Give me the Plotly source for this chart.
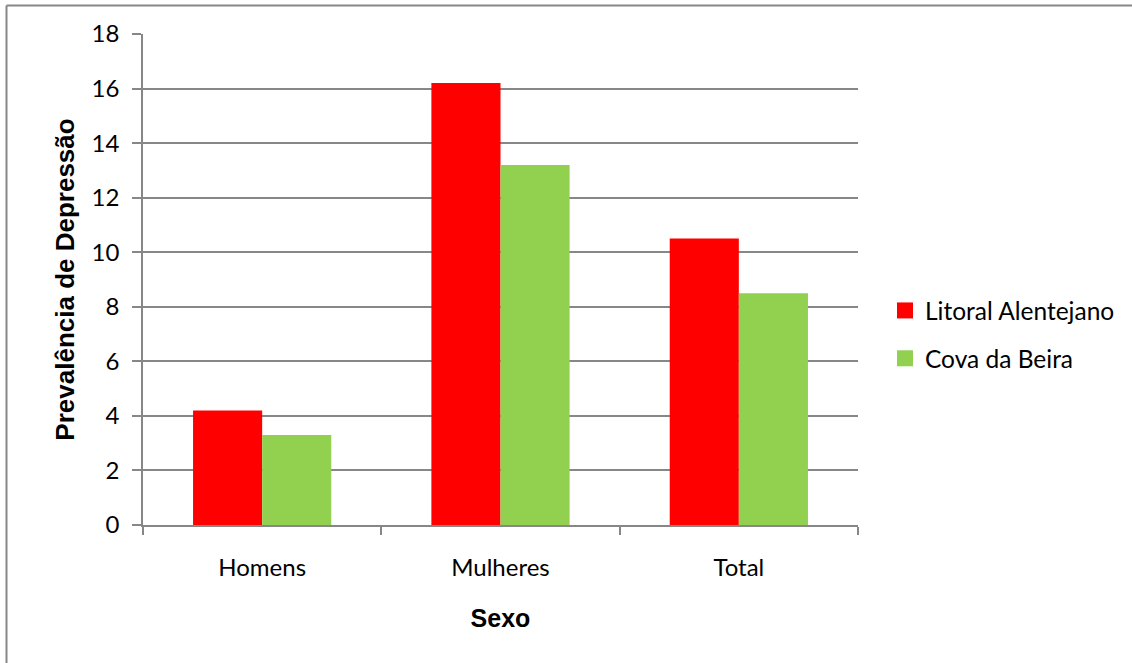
import plotly.graph_objects as go

# Prevalence of depression by sex, two regions
categorias = ["Homens", "Mulheres", "Total"]
litoral_alentejano = [4.2, 16.2, 10.5]
cova_da_beira = [3.3, 13.2, 8.5]
y_ticks = [0, 2, 4, 6, 8, 10, 12, 14, 16, 18]

VERMELHO = "#FF0000"
VERDE = "#92D050"
CINZA = "#878787"

W, H = 1132, 663
L, R, T, B = 143, 274, 34, 138
pw, ph = W - L - R, H - T - B

fig = go.Figure()
fig.add_trace(go.Bar(x=categorias, y=litoral_alentejano, name="Litoral Alentejano",
                     marker=dict(color=VERMELHO, line=dict(width=0)), showlegend=False))
fig.add_trace(go.Bar(x=categorias, y=cova_da_beira, name="Cova da Beira",
                     marker=dict(color=VERDE, line=dict(width=0)), showlegend=False))

# legend entries with larger square swatches
for nome, cor, grupo in [("Litoral Alentejano", VERMELHO, "a"), ("Cova da Beira", VERDE, "b")]:
    fig.add_trace(go.Scatter(x=[None], y=[None], mode="markers", name=nome,
                             legendgroup=grupo,
                             marker=dict(symbol="square", size=16, color=cor)))

def px_x(px):
    return (px - L) / pw

def px_y(py):
    return (H - B - py) / ph

# outer frame (top and left edges)
x0, x1 = px_x(6.5), px_x(W + 10)
y0, y1 = px_y(H + 10), px_y(5.5)
fig.add_shape(type="line", xref="paper", yref="paper", x0=x0, x1=x0, y0=y0, y1=y1,
              line=dict(color=CINZA, width=2))
fig.add_shape(type="line", xref="paper", yref="paper", x0=x0, x1=x1, y0=y1, y1=y1,
              line=dict(color=CINZA, width=2))

fig.update_layout(
    width=W, height=H,
    margin=dict(l=L, r=R, t=T, b=B, pad=0),
    paper_bgcolor="white", plot_bgcolor="white",
    barmode="group", bargap=0.42, bargroupgap=0,
    font=dict(family="Lato", size=24, color="black"),
    legend=dict(x=px_x(885), y=px_y(288), xanchor="left", yanchor="top",
                font=dict(family="Lato", size=24.5, color="black"),
                tracegroupgap=13, itemsizing="trace", bgcolor="rgba(0,0,0,0)"),
    xaxis=dict(
        type="category", showline=True, linecolor=CINZA, linewidth=1.5,
        ticks="outside", tickson="boundaries", ticklen=8, tickcolor=CINZA, tickwidth=1.5,
        showgrid=False, tickfont=dict(family="Lato", size=24), ticklabelstandoff=20,
        title=dict(text="<b>Sexo</b>", font=dict(family="Liberation Sans", size=25), standoff=30),
    ),
    yaxis=dict(
        range=[0, 18], tickvals=y_ticks, showline=True, linecolor=CINZA, linewidth=1.5,
        ticks="outside", ticklen=9, tickcolor=CINZA, tickwidth=1.5,
        showgrid=True, gridcolor=CINZA, gridwidth=1.5, zeroline=False,
        tickfont=dict(family="Lato", size=24), ticklabelstandoff=8,
        title=dict(text="<b>Prevalência de Depressão</b>",
                   font=dict(family="Liberation Sans", size=26), standoff=10),
    ),
)

fig.write_html("out.html")
